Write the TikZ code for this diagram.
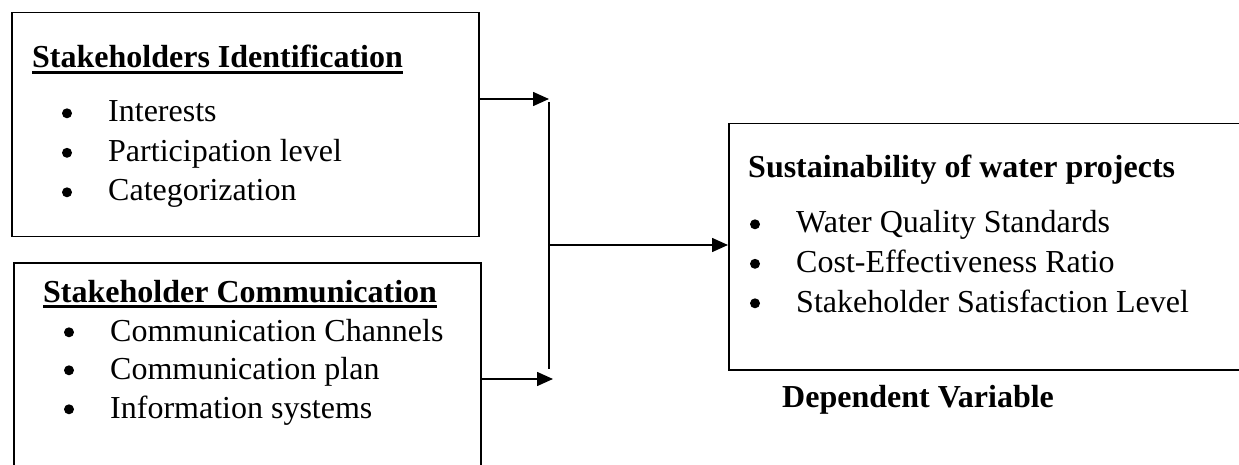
\documentclass[tikz,border=0pt]{standalone}
\usepackage{fontspec}
\setmainfont{Liberation Serif}
\usetikzlibrary{arrows.meta}
\tikzset{
  box/.style={draw, line width=1.5pt, anchor=north west, inner sep=0pt},
  ttl/.style={anchor=base west, inner sep=0pt, font=\fontsize{32}{39}\selectfont\bfseries},
  itm/.style={anchor=base west, inner sep=0pt, font=\fontsize{32}{39}\selectfont},
  conn/.style={line width=1.5pt},
  arr/.style={line width=1.5pt, -{Triangle[length=16pt,width=14pt]}},
  uline/.style={line width=2.6pt}
}
\begin{document}
\begin{tikzpicture}[x=1pt,y=1pt]
\useasboundingbox (0,0) rectangle (1239,464);
\clip (0,0) rectangle (1239,464);
% boxes
\node[box, minimum width=467pt, minimum height=224pt] (box1) at (11,452) {};
\node[box, minimum width=467pt, minimum height=215pt] (box2) at (13,202) {};
\node[box, minimum width=520pt, minimum height=246pt] (box3) at (728,341) {};
% box 1 text
\node[ttl] (t1) at (32,396) {Stakeholders Identification};
\node[itm] (a1) at (108,342) {Interests};
\node[itm] (a2) at (108,302.5) {Participation level};
\node[itm] (a3) at (108,263) {Categorization};
% box 2 text
\node[ttl] (t2) at (43,162) {Stakeholder Communication};
\node[itm] (b1) at (110,123) {Communication Channels};
\node[itm] (b2) at (110,85) {Communication plan};
\node[itm] (b3) at (110,46) {Information systems};
% box 3 text
\node[ttl] (t3) at (748,286) {Sustainability of water projects};
\node[itm] (c1) at (796,231) {Water Quality Standards};
\node[itm] (c2) at (796,191.5) {Cost-Effectiveness Ratio};
\node[itm] (c3) at (796,152) {Stakeholder Satisfaction Level};
\node[ttl] (dv) at (782,57) {Dependent Variable};
% underlines
\draw[uline] ([yshift=-4.5pt]t1.base west) -- ([yshift=-4.5pt]t1.base east);
\draw[uline] ([yshift=-4.5pt]t2.base west) -- ([yshift=-4.5pt]t2.base east);
% bullets
\foreach \n in {a1,a2,a3,b1,b2,b3,c1,c2,c3}
  \fill ([shift={(-41pt,8.7pt)}]\n.base west) circle (5pt);
% connectors
\coordinate (j1) at (549,365);
\coordinate (j2) at (553,85);
\coordinate (vt) at (549,362);
\coordinate (vb) at (549,95);
\coordinate (vm) at (549,219);
\draw[arr] (box1.east |- j1) -- (j1);
\draw[arr] (box2.east |- j2) -- (j2);
\draw[conn] (vt) -- (vb);
\draw[arr] (vm) -- (box3.west |- vm);
\end{tikzpicture}
\end{document}
